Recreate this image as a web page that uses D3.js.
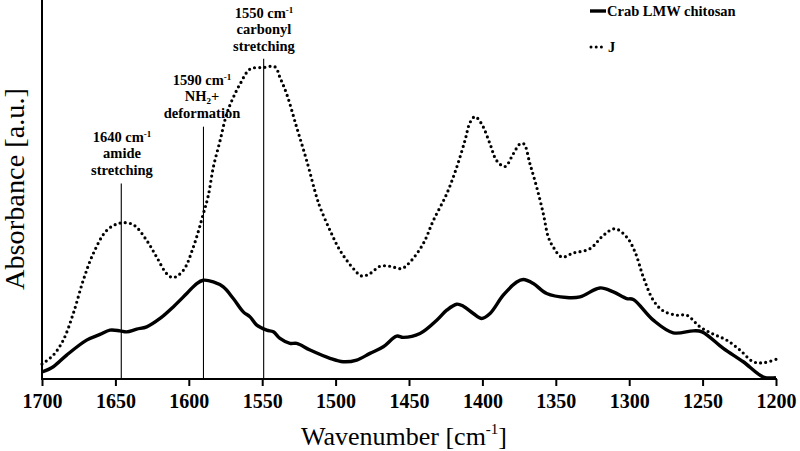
<!DOCTYPE html>
<html><head><meta charset="utf-8">
<script src="https://cdn.jsdelivr.net/npm/d3@7"></script>
<style>body{margin:0;background:#fff}svg{display:block}</style>
</head><body>
<svg id="c" width="800" height="451"></svg>
<script>
// ---- data ----
const xTicks = [1700,1650,1600,1550,1500,1450,1400,1350,1300,1250,1200];
const seriesNames = ["Crab LMW chitosan","J"];
const chitosanWn = [1700,1692.3,1683.2,1669.6,1660.5,1653.7,1646.9,1642.3,1635.5,1628.7,1619.6,1610.6,1601.4,1594.6,1590.1,1583.3,1576.5,1569.7,1562.9,1558.3,1553.7,1546.9,1542.4,1537.9,1531.1,1526.5,1517.4,1503.8,1494.8,1485.6,1476.6,1467.5,1458.4,1453.9,1442.5,1431.1,1424.3,1417.5,1413.0,1406.2,1400.5,1394.8,1385.8,1376.6,1372.1,1365.3,1356.2,1342.6,1333.5,1319.9,1310.8,1301.7,1297.2,1283.6,1270.0,1256.3,1250.4,1235.9,1222.3,1208.6,1200];
const chitosanAbs = [0.06,0.113,0.23,0.38,0.437,0.48,0.473,0.463,0.49,0.513,0.597,0.713,0.847,0.947,0.98,0.963,0.913,0.797,0.663,0.613,0.53,0.48,0.463,0.397,0.347,0.347,0.28,0.197,0.163,0.18,0.247,0.313,0.42,0.407,0.447,0.58,0.68,0.74,0.72,0.647,0.597,0.647,0.83,0.963,0.987,0.947,0.847,0.807,0.813,0.903,0.863,0.797,0.787,0.58,0.453,0.473,0.463,0.297,0.163,0.01,0.003];
const jWn = [1700,1692.3,1685.5,1678.7,1671.9,1665.1,1655.9,1646.9,1637.8,1628.7,1621.9,1615.1,1610.6,1603.7,1596.9,1590.1,1586.7,1583.3,1578.7,1574.2,1569.7,1565.1,1558.3,1549.3,1541.3,1537.9,1533.3,1526.5,1519.7,1512.9,1510.6,1503.8,1497.0,1487.9,1482.2,1476.6,1469.8,1462.9,1455.0,1449.3,1440.3,1433.4,1424.3,1417.5,1411.9,1408.4,1405.0,1400.5,1394.8,1390.3,1384.6,1379.0,1374.4,1371.7,1367.6,1363.0,1358.5,1355.1,1351.7,1346.0,1338.1,1326.7,1317.6,1309.7,1301.7,1296.0,1290.4,1283.6,1276.8,1267.6,1260.8,1251.8,1242.7,1233.6,1224.5,1215.5,1208.6,1200];
const jAbs = [0.14,0.23,0.38,0.647,0.98,1.247,1.48,1.553,1.537,1.38,1.213,1.047,1.007,1.08,1.313,1.647,1.83,2.113,2.38,2.647,2.813,2.947,3.097,3.113,3.12,3.013,2.847,2.513,2.18,1.813,1.713,1.48,1.28,1.097,1.023,1.047,1.12,1.12,1.097,1.163,1.347,1.58,1.847,2.113,2.38,2.563,2.62,2.547,2.347,2.18,2.12,2.247,2.347,2.347,2.147,1.913,1.647,1.413,1.313,1.213,1.253,1.297,1.43,1.497,1.413,1.263,1.013,0.78,0.673,0.63,0.63,0.513,0.44,0.38,0.28,0.163,0.153,0.187];
const annotWn = [1646, 1590, 1549];
const annotTop = [1.95, 2.52, 3.2];
const annotLines = [
  [["1640 cm","-1"],["amide"],["stretching"]],
  [["1590 cm","-1"],["NH","2","+"],["deformation"]],
  [["1550 cm","-1"],["carbonyl"],["stretching"]]
];
const xTitle = "Wavenumber [cm";
const yTitle = "Absorbance [a.u.]";

// ---- chart ----
const svg = d3.select("#c");
const x = d3.scaleLinear().domain([1700,1200]).range([42,776]);
const y = d3.scaleLinear().domain([-0.01,3.79]).range([379,0]);
const serif = "'Liberation Serif','Times New Roman',serif";

// annotation lines
const ann = svg.append("g");
annotWn.forEach((w,i)=>{
  ann.append("line").attr("x1",x(w)).attr("x2",x(w))
    .attr("y1",y(annotTop[i])).attr("y2",y(0)).attr("stroke","#000").attr("stroke-width",1.1);
});
// annotation text
const annX = [122, 202, 264];
const annY0 = [141.7, 84.5, 17.5];
annotLines.forEach((lines,i)=>{
  lines.forEach((parts,j)=>{
    const t = svg.append("text").attr("x",annX[i]).attr("y",annY0[i]+j*16.6)
      .attr("text-anchor","middle").attr("font-family",serif).attr("font-weight","bold")
      .attr("font-size",14.5).attr("fill","#000");
    if(parts.length===1){ t.text(parts[0]); }
    else if(parts.length===2){
      t.append("tspan").text(parts[0]);
      t.append("tspan").attr("font-size",9).attr("dy",-5).text(parts[1]);
    } else {
      t.append("tspan").text(parts[0]);
      t.append("tspan").attr("font-size",9).attr("dy",3).text(parts[1]);
      t.append("tspan").attr("dy",-3).text(parts[2]);
    }
  });
});

const line = d3.line().x(d=>x(d[0])).y(d=>y(d[1])).curve(d3.curveCatmullRom.alpha(0.5));
const jData = jWn.map((w,i)=>[w,jAbs[i]]);
const cData = chitosanWn.map((w,i)=>[w,chitosanAbs[i]]);

svg.append("path").attr("d",line(jData)).attr("fill","none").attr("stroke","#000")
  .attr("stroke-width",3.2).attr("stroke-linecap","round").attr("stroke-dasharray","0 5.2");
svg.append("path").attr("d",line(cData)).attr("fill","none").attr("stroke","#000")
  .attr("stroke-width",3.4).attr("stroke-linejoin","round");

// axes
const xAxis = d3.axisBottom(x).tickValues(xTicks).tickSize(7).tickFormat(d3.format("d"));
const gx = svg.append("g").attr("transform",`translate(0,${y(-0.01)})`).call(xAxis);
gx.select(".domain").attr("stroke","#000").attr("stroke-width",2).attr("d",`M${x(1700)},0H${x(1200)+1}`);
gx.selectAll(".tick line").attr("stroke","#000").attr("stroke-width",2);
gx.selectAll(".tick text").attr("font-family",serif).attr("font-weight","bold")
  .attr("font-size",20).attr("fill","#000").attr("y",15).attr("dy","0.72em");

svg.append("line").attr("x1",x(1700)).attr("x2",x(1700)).attr("y1",0).attr("y2",y(-0.01)+1)
  .attr("stroke","#000").attr("stroke-width",2);

// axis titles
const xt = svg.append("text").attr("x",404).attr("y",445).attr("text-anchor","middle")
  .attr("font-family",serif).attr("font-size",26).attr("fill","#000");
xt.append("tspan").text(xTitle);
xt.append("tspan").attr("font-size",15).attr("dy",-11).text("-1");
xt.append("tspan").attr("dy",11).text("]");

svg.append("text").attr("transform","translate(24,189) rotate(-90)").attr("text-anchor","middle")
  .attr("font-family",serif).attr("font-size",27).attr("fill","#000")
  .attr("textLength",202).attr("lengthAdjust","spacingAndGlyphs").text(yTitle);

// legend
const lg = svg.append("g");
lg.append("line").attr("x1",590).attr("x2",606).attr("y1",11).attr("y2",11)
  .attr("stroke","#000").attr("stroke-width",3.4);
lg.append("text").attr("x",607).attr("y",16).attr("font-family",serif).attr("font-weight","bold")
  .attr("font-size",14.5).attr("fill","#000").text(seriesNames[0]);
lg.append("line").attr("x1",591).attr("x2",605).attr("y1",47).attr("y2",47)
  .attr("stroke","#000").attr("stroke-width",3).attr("stroke-linecap","round").attr("stroke-dasharray","0 5.2");
lg.append("text").attr("x",608).attr("y",52).attr("font-family",serif).attr("font-weight","bold")
  .attr("font-size",14.5).attr("fill","#000").text(seriesNames[1]);
</script>
</body></html>
